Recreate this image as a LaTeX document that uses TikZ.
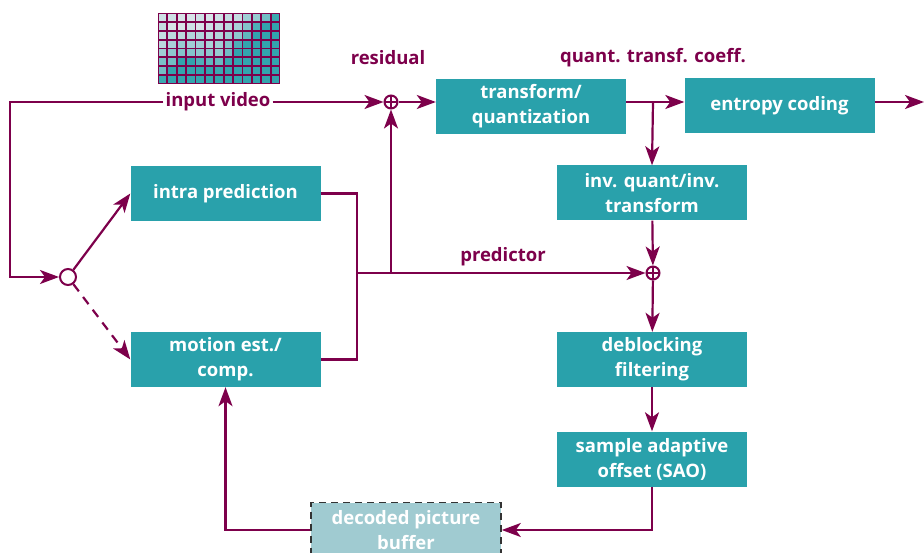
\documentclass[tikz,border=0pt]{standalone}
\usepackage{fontspec}
\setmainfont{Open Sans}
\usetikzlibrary{arrows.meta}

\definecolor{encteal}{RGB}{41,161,171}
\definecolor{encred}{RGB}{125,0,75}
\definecolor{enclight}{RGB}{160,203,209}
\definecolor{encgrey}{RGB}{224,231,235}

\tikzset{
  block/.style={rectangle,fill=encteal,text=white,font=\bfseries\fontsize{18.5}{25}\selectfont,
    minimum width=190pt,minimum height=55pt,inner sep=0pt,align=center},
  tag/.style={text=encred,font=\bfseries\fontsize{18.5}{25}\selectfont,inner sep=2pt},
  wire/.style={draw=encred,line width=2.2pt},
  link/.style={wire,-{Stealth[length=19pt,width=14pt,inset=5pt]}},
  adder/.style={circle,draw=encred,line width=2pt,fill=white,minimum size=13pt,inner sep=0pt,
    path picture={\draw[encred,line width=1.6pt]
      (path picture bounding box.north) -- (path picture bounding box.south)
      (path picture bounding box.west) -- (path picture bounding box.east);}}
}

\begin{document}
\begin{tikzpicture}[x=1pt,y=-1pt]
  \useasboundingbox (0,0) rectangle (924,553);

  % input video frame
  \fill[encred] (158,13) rectangle (280,84);
  \foreach \row [count=\j] in {
      {10,10,5,5,10,5,10,15,15,35,40,60,90},
      {15,5,5,10,5,10,15,20,30,50,80,95,95},
      {15,20,20,25,25,20,25,35,45,70,95,95,95},
      {20,30,40,35,35,30,35,50,80,95,95,95,95},
      {35,45,50,50,45,45,40,60,95,95,95,95,95},
      {55,60,95,95,80,70,65,90,95,95,95,95,95},
      {60,95,95,95,95,95,90,95,95,95,95,95,95},
      {90,95,95,95,95,95,95,95,95,95,95,95,95}}{
    \foreach \w [count=\i] in \row {
      \node[fill=encteal!\w!encgrey,minimum width=7.6pt,minimum height=7pt,inner sep=0pt]
        (pix\i-\j) at ({158+9.385*(\i-0.5)},{13+8.875*(\j-0.5)}) {};
    }
  }

  % blocks
  \node[block] (intra)   at (225.5,193.5) {intra prediction};
  \node[block] (motion)  at (225.5,359.5) {motion est./\\comp.};
  \node[block] (trans)   at (531,106.5)   {transform/\\quantization};
  \node[block] (entropy) at (779.5,106)   {entropy coding};
  \node[block] (invq)    at (652,193)     {inv. quant/inv.\\transform};
  \node[block] (deblock) at (652,359.5)   {deblocking\\filtering};
  \node[block] (sao)     at (652,459)     {sample adaptive\\offset (SAO)};
  \node[block,fill=enclight,draw=black!80,dashed,line width=1.6pt,dash pattern=on 7pt off 5pt]
    (dpb) at (406,530) {decoded picture\\buffer};

  % adders and switch
  \node[adder] (sum1) at (391,102) {};
  \node[adder] (sum2) at (653,273) {};
  \node[circle,draw=encred,line width=2pt,fill=white,minimum size=16pt,inner sep=0pt]
    (switch) at (68,277) {};

  % labels
  \node[tag] (invid) at (218,102) {input video};
  \node[tag] (resid) at (388,58)  {residual};
  \node[tag] (coeff) at (653,58)  {quant. transf. coeff.};
  \node[tag] (pred)  at (503,257) {predictor};

  \coordinate (corner) at (10,102);
  \coordinate (join) at (357,273);
  \coordinate (split) at (653,102);
  \coordinate (out) at (924,102);

  % connections
  \draw[link] (invid) -- (sum1);
  \draw[link] (invid.west) -- (corner) |- (switch);
  \draw[link] (switch) -- (intra.west);
  \draw[link,dash pattern=on 9pt off 7pt] (switch) -- (motion.west);
  \draw[wire] (intra.east) -| (join) |- (motion.east);
  \draw[link] (join) -- (sum2);
  \draw[link] (sum1 |- join) -- (sum1);
  \draw[link] (sum1) -- (sum1 -| trans.west);
  \draw[link] (trans.east |- split) -- (entropy.west |- split);
  \draw[link] (split) -- (invq.north);
  \draw[link] (entropy.east |- out) -- (out);
  \draw[link] (invq) -- (sum2);
  \draw[link] (sum2) -- (deblock);
  \draw[link] (deblock) -- (sao);
  \draw[link] (sao.south) |- (dpb.east);
  \draw[link] (dpb.west) -| (motion.south);
\end{tikzpicture}
\end{document}
